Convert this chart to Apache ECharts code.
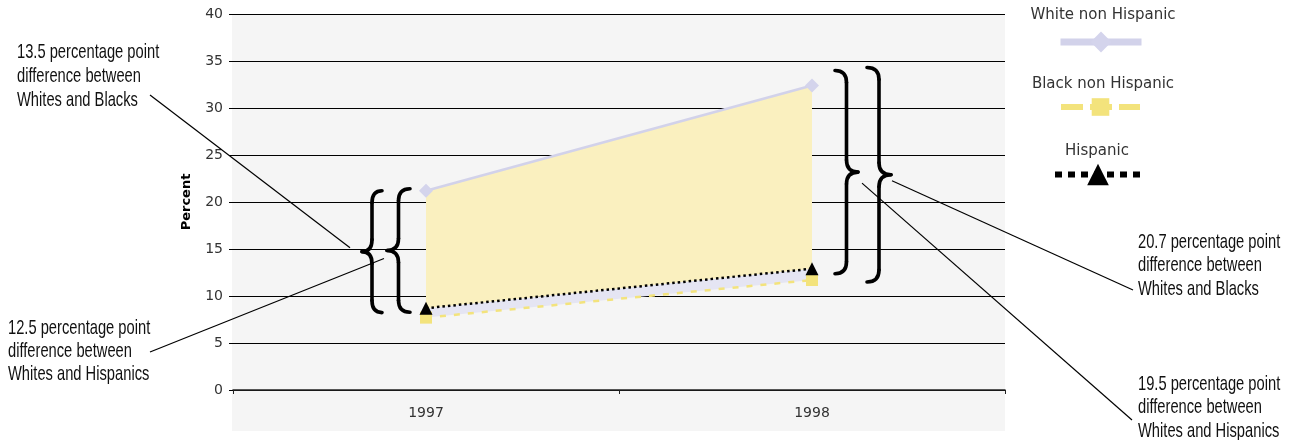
<!DOCTYPE html>
<html>
<head>
<meta charset="utf-8">
<script src="https://cdn.jsdelivr.net/npm/echarts@6/dist/echarts.min.js"></script>
<style>
  html, body { margin: 0; padding: 0; background: #fff; }
  #chart { width: 1294px; height: 440px; }
</style>
</head>
<body>
<div id="chart"></div>
<script>
// Share of each group (percent), by year
const years = ['1997', '1998'];
const whiteNonHispanic = [21.2, 32.4];
const blackNonHispanic = [7.7, 11.7];
const hispanic = [8.7, 12.9];

// Value axis ticks
const yMin = 0;
const yMax = 40;
const yStep = 5;

const seriesNames = ['White non Hispanic', 'Black non Hispanic', 'Hispanic'];

const AXIS_FONT = 'DejaVu Sans';
// Narrow note lettering: a regular sans squeezed horizontally
const NOTE_FONT = '21px "Liberation Sans", Arial, sans-serif';
const NOTE_SQUEEZE = 0.7;

const WHITE_COLOR = '#d2d2ea';
const BLACK_COLOR = '#f3e37c';
const HISP_COLOR = '#000000';

// Gap between two groups, in percentage points
const gap = (a, b, i) => (a[i] - b[i]).toFixed(1);
const noteLines = (a, b, i, who) => [
  gap(a, b, i) + ' percentage point',
  'difference between',
  'Whites and ' + who
];

const chart = echarts.init(document.getElementById('chart'), null, { renderer: 'canvas' });

const legendBase = {
  selectedMode: false, padding: 0, formatter: () => '', textStyle: { fontSize: 1 }
};

const option = {
  animation: false,
  grid: { left: 233, right: 289, top: 14, bottom: 50 },
  xAxis: {
    type: 'category',
    data: years,
    boundaryGap: true,
    axisLine: { lineStyle: { color: '#222', width: 1.5 } },
    axisTick: { show: true, length: 4, lineStyle: { color: '#222' } },
    axisLabel: { margin: 16, fontSize: 14, color: '#333', fontFamily: AXIS_FONT },
    splitLine: { show: false }
  },
  yAxis: {
    type: 'value',
    min: yMin,
    max: yMax,
    interval: yStep,
    name: 'Percent',
    nameLocation: 'middle',
    nameGap: 40,
    nameRotate: 90,
    nameTextStyle: { fontWeight: 'bold', fontSize: 13, color: '#000', fontFamily: AXIS_FONT },
    axisLine: { show: false },
    axisTick: { show: true, length: 4, lineStyle: { color: '#000' } },
    axisLabel: { margin: 10, fontSize: 14, color: '#333', fontFamily: AXIS_FONT },
    splitLine: { lineStyle: { color: '#000', width: 1 } }
  },
  legend: [
    Object.assign({}, legendBase, {
      data: [seriesNames[0]], left: 1057, top: 29, itemWidth: 81, itemHeight: 26,
      lineStyle: { width: 7, type: 'solid' }
    }),
    Object.assign({}, legendBase, {
      data: [seriesNames[1]], left: 1058, top: 96, itemWidth: 79, itemHeight: 22,
      lineStyle: { width: 6, type: [22, 7] }
    }),
    Object.assign({}, legendBase, {
      data: [seriesNames[2]], left: 1052, top: 161, itemWidth: 86, itemHeight: 27,
      lineStyle: { width: 6, type: [7, 6] }
    })
  ],
  series: [
    // Shaded band between the groups: base, Hispanic-Black, White-Hispanic
    {
      name: 'band-base', type: 'line', stack: 'gap', data: blackNonHispanic,
      symbol: 'none', lineStyle: { opacity: 0 }, silent: true, z: 1
    },
    {
      name: 'band-low', type: 'line', stack: 'gap',
      data: hispanic.map((v, i) => +(v - blackNonHispanic[i]).toFixed(2)),
      symbol: 'none', lineStyle: { opacity: 0 }, silent: true, z: 1,
      areaStyle: { color: '#e5e5f3', opacity: 1 }
    },
    {
      name: 'band-high', type: 'line', stack: 'gap',
      data: whiteNonHispanic.map((v, i) => +(v - hispanic[i]).toFixed(2)),
      symbol: 'none', lineStyle: { opacity: 0 }, silent: true, z: 1,
      areaStyle: { color: '#faf0bf', opacity: 1 }
    },
    {
      name: seriesNames[0], type: 'line', data: whiteNonHispanic, z: 3,
      symbol: 'diamond', symbolSize: 14,
      lineStyle: { color: WHITE_COLOR, width: 2.5 },
      itemStyle: { color: '#d4d4ec' }
    },
    {
      name: seriesNames[1], type: 'line', data: blackNonHispanic, z: 3,
      symbol: 'rect', symbolSize: 12,
      lineStyle: { color: BLACK_COLOR, width: 2.5, type: [6, 8] },
      itemStyle: { color: BLACK_COLOR }
    },
    {
      name: seriesNames[2], type: 'line', data: hispanic, z: 4,
      symbol: 'triangle', symbolSize: 13,
      lineStyle: { color: HISP_COLOR, width: 2.5, type: [2.5, 3] },
      itemStyle: { color: HISP_COLOR }
    }
  ]
};

chart.setOption(option);

// Annotation layer: plot backdrop, braces, leader lines and notes
const px = (i, v) => chart.convertToPixel({ xAxisIndex: 0, yAxisIndex: 0 }, [i, v]);
const c0 = px(0, 0)[0];
const c1 = px(1, 0)[0];
const band = c1 - c0;
const plotLeft = c0 - band / 2;
const plotRight = c1 + band / 2;
const plotTop = px(0, yMax)[1];
const plotBottom = px(0, yMin)[1];
const py = (v) => px(0, v)[1];

const STROKE = { stroke: '#000', lineWidth: 3.6, fill: null, lineCap: 'round' };

// Curly brace built from curves and straight runs; dir = 1 gives "{", dir = -1 gives "}"
function braceParts(tipX, y1, y2, w, dir) {
  const xs = tipX + dir * w / 2;
  const xe = tipX + dir * w;
  const ym = (y1 + y2) / 2;
  const r = Math.min(12, (y2 - y1) / 8);
  const curve = (x1, yA, cx, cy, x2, yB) => ({
    type: 'bezierCurve', z: 10, silent: true,
    shape: { x1: x1, y1: yA, cpx1: cx, cpy1: cy, x2: x2, y2: yB },
    style: STROKE
  });
  const seg = (x1, yA, x2, yB) => ({
    type: 'line', z: 10, silent: true,
    shape: { x1: x1, y1: yA, x2: x2, y2: yB },
    style: STROKE
  });
  return [
    curve(xe, y1, xs, y1, xs, y1 + r),
    seg(xs, y1 + r, xs, ym - r),
    curve(xs, ym - r, xs, ym, tipX, ym),
    curve(tipX, ym, xs, ym, xs, ym + r),
    seg(xs, ym + r, xs, y2 - r),
    curve(xs, y2 - r, xs, y2, xe, y2)
  ];
}

const braces = [
  { tip: c0 - 64, y1: py(whiteNonHispanic[0]), y2: py(blackNonHispanic[0]) - 5, w: 20, dir: 1 },
  { tip: c0 - 39, y1: py(whiteNonHispanic[0]) - 2, y2: py(hispanic[0]) + 4, w: 23, dir: 1 },
  { tip: c1 + 46, y1: py(whiteNonHispanic[1]) - 15, y2: py(hispanic[1]) + 5, w: 23, dir: -1 },
  { tip: c1 + 79, y1: py(whiteNonHispanic[1]) - 18, y2: py(blackNonHispanic[1]) + 2, w: 24, dir: -1 }
];
braces.forEach(b => { b.mid = (b.y1 + b.y2) / 2; });

const elements = [];

elements.push({
  type: 'rect', z: -10, silent: true,
  shape: { x: plotLeft - 1, y: plotTop + 1, width: plotRight - plotLeft + 1, height: plotBottom - plotTop + 40 },
  style: { fill: '#f5f5f5' }
});

braces.forEach(b => {
  braceParts(b.tip, b.y1, b.y2, b.w, b.dir).forEach(el => elements.push(el));
});

const leaders = [
  [150, 95, braces[0].tip - 12, braces[0].mid - 4],
  [150, 352, braces[1].tip - 3, braces[1].mid + 8],
  [braces[3].tip + 1, braces[3].mid + 6, 1133, 290],
  [braces[2].tip + 4, braces[2].mid + 11, 1132, 420]
];
leaders.forEach(l => {
  elements.push({
    type: 'line', z: 10, silent: true,
    shape: { x1: l[0], y1: l[1], x2: l[2], y2: l[3] },
    style: { stroke: '#000', lineWidth: 1.2 }
  });
});

const notes = [
  { lines: noteLines(whiteNonHispanic, blackNonHispanic, 0, 'Blacks'), x: 17, y: 40, lh: 24 },
  { lines: noteLines(whiteNonHispanic, hispanic, 0, 'Hispanics'), x: 8, y: 317, lh: 23 },
  { lines: noteLines(whiteNonHispanic, blackNonHispanic, 1, 'Blacks'), x: 1138, y: 230, lh: 23.5 },
  { lines: noteLines(whiteNonHispanic, hispanic, 1, 'Hispanics'), x: 1138, y: 372, lh: 23.5 }
];
notes.forEach(n => {
  elements.push({
    type: 'text', z: 10, silent: true, x: n.x, y: n.y, scaleX: NOTE_SQUEEZE,
    style: {
      text: n.lines.join('\n'), font: NOTE_FONT, fill: '#111',
      lineHeight: n.lh, textAlign: 'left', textVerticalAlign: 'top'
    }
  });
});

// Legend captions sit above their keys
const captions = [
  { text: seriesNames[0], x: 1103, y: 15 },
  { text: seriesNames[1], x: 1103, y: 84 },
  { text: seriesNames[2], x: 1097, y: 151 }
];
captions.forEach(c => {
  elements.push({
    type: 'text', z: 10, silent: true, x: c.x, y: c.y,
    style: {
      text: c.text, font: '15px "DejaVu Sans", sans-serif', fill: '#333',
      textAlign: 'center', textVerticalAlign: 'middle'
    }
  });
});

chart.setOption({ graphic: { elements: elements } });
</script>
</body>
</html>
